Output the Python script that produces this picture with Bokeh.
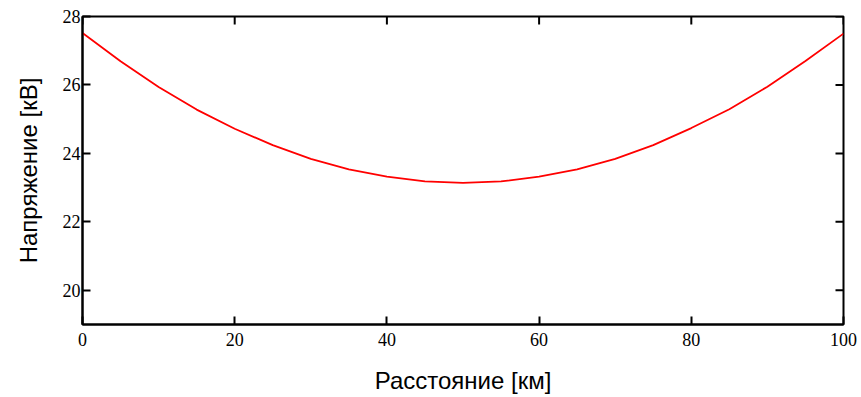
import math
from bokeh.plotting import figure
from bokeh.models import Range1d, FixedTicker
from bokeh.embed import file_html
from bokeh.resources import INLINE

# Data
distance_km = [0, 5, 10, 15, 20, 25, 30, 35, 40, 45, 50,
               55, 60, 65, 70, 75, 80, 85, 90, 95, 100]
voltage_kv = [27.52, 26.69, 25.94, 25.28, 24.72, 24.24, 23.84, 23.53, 23.32, 23.18, 23.14,
              23.18, 23.32, 23.53, 23.84, 24.24, 24.74, 25.29, 25.95, 26.70, 27.50]
x_ticks = [0, 20, 40, 60, 80, 100]
y_ticks = [20, 22, 24, 26, 28]
x_label = "Расстояние [км]"
y_label = "Напряжение [кВ]"

X_MIN, X_MAX = 0, 100
Y_MIN, Y_MAX = 19, 28

p = figure(width=861, height=397, output_backend="svg", toolbar_location=None,
           x_range=Range1d(X_MIN, X_MAX), y_range=Range1d(Y_MIN, Y_MAX),
           min_border_left=82, min_border_right=18, min_border_top=16, min_border_bottom=73,
           background_fill_color="white", border_fill_color="white")

p.line(distance_km, voltage_kv, line_color="#ff0000", line_width=1.8)

# tick marks on the top and right frame edges (Mathcad-style boxed plot)
p.scatter(x=x_ticks, y=[Y_MAX] * len(x_ticks), marker="dash", size=16, angle=math.pi / 2,
          line_color="black", line_width=2)
p.scatter(x=[X_MAX] * len(y_ticks), y=y_ticks, marker="dash", size=16,
          line_color="black", line_width=2)

p.grid.visible = False
p.outline_line_color = "black"
p.outline_line_width = 2

SERIF = "'Liberation Serif'"
SANS = "'Liberation Sans'"


def style_axis(ax, ticks):
    ax.ticker = FixedTicker(ticks=ticks)
    ax.minor_tick_line_color = None
    ax.major_tick_in = 8
    ax.major_tick_out = 0
    ax.major_tick_line_width = 2
    ax.major_tick_line_color = "black"
    ax.axis_line_width = 2
    ax.axis_line_color = "black"
    ax.major_label_text_font = SERIF
    ax.major_label_text_font_size = "18px"
    ax.major_label_text_color = "black"
    ax.axis_label_text_font = SANS
    ax.axis_label_text_font_size = "24px"
    ax.axis_label_text_font_style = "normal"
    ax.axis_label_text_color = "black"


xa = p.xaxis[0]
style_axis(xa, x_ticks)
xa.major_label_standoff = 8
xa.axis_label = x_label
xa.axis_label_standoff = 18

ya = p.yaxis[0]
style_axis(ya, y_ticks)
ya.major_label_standoff = 2
ya.axis_label = y_label
ya.axis_label_standoff = 18

open("out.html", "w").write(file_html(p, INLINE))
